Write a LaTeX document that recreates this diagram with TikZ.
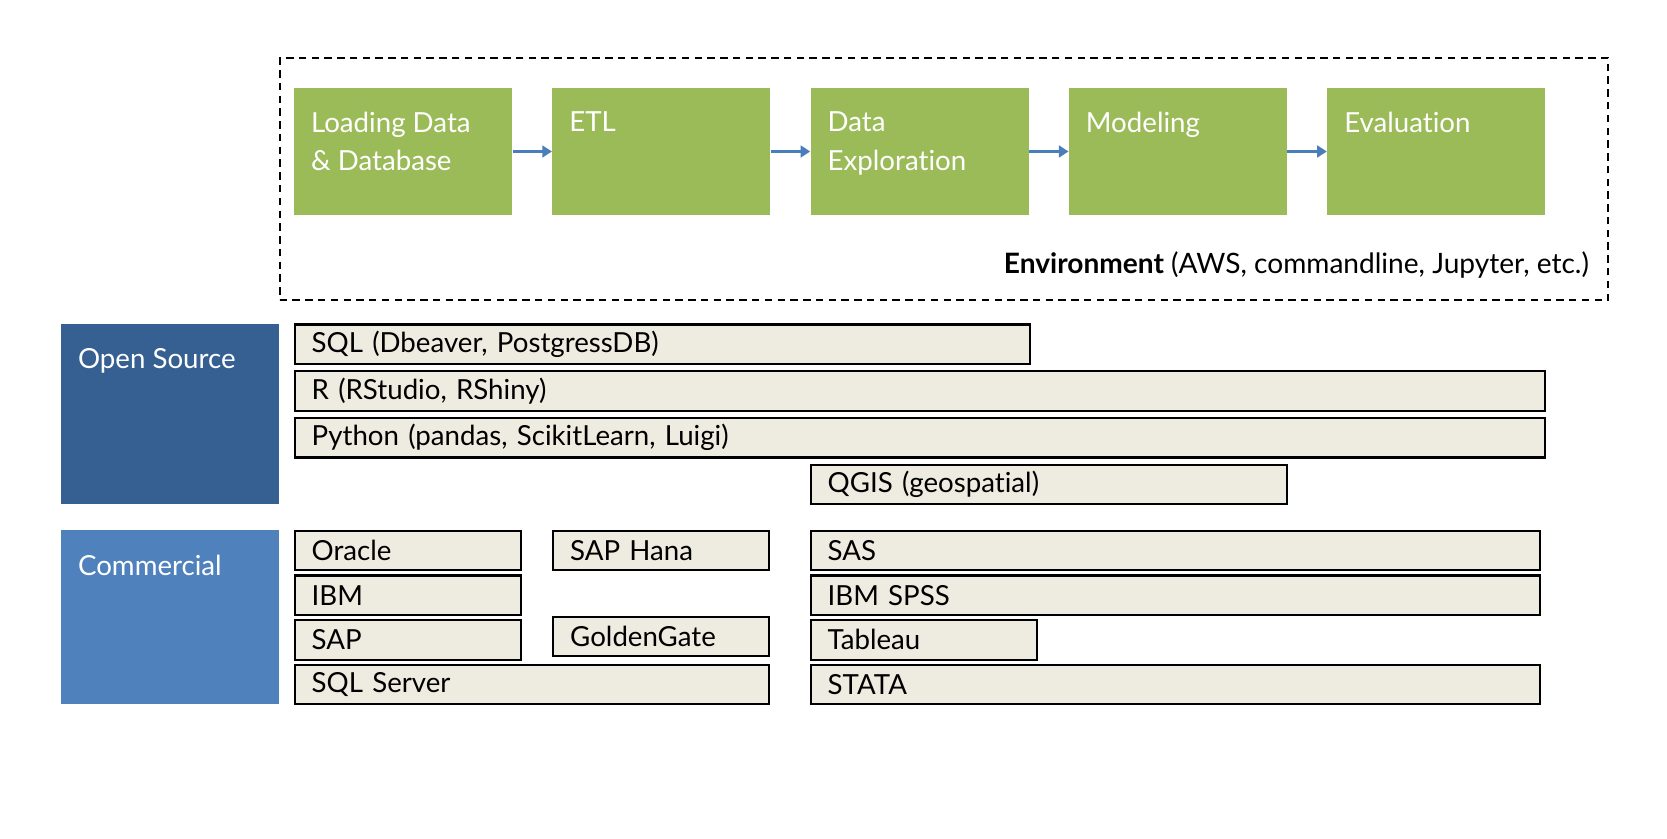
\documentclass[tikz,border=0pt]{standalone}
\usepackage{fontspec}
\setmainfont{Lato}[Ligatures=NoCommon]
\usetikzlibrary{positioning, arrows.meta}

\definecolor{stepgreen}{HTML}{9BBB59}
\definecolor{toolfill}{HTML}{EEECE1}
\definecolor{opendark}{HTML}{376092}
\definecolor{comblue}{HTML}{4F81BD}
\definecolor{flowblue}{HTML}{4A7EBB}

\begin{document}
\begin{tikzpicture}[x=0.5pt,y=-0.5pt,node distance=18.5pt,
	stepbox/.style={fill=stepgreen, minimum width=102.5pt, minimum height=60pt, inner sep=0pt},
	steptext/.style={text=white, align=left, anchor=north west, inner xsep=8pt, inner ysep=11.5pt,
		font=\fontsize{13}{18}\selectfont},
	groupbox/.style={anchor=north west, minimum width=102.5pt, inner sep=0pt},
	toolbox/.style={draw=black, line width=1pt, fill=toolfill, anchor=north west, align=left,
		minimum height=18.5pt, inner xsep=8pt, inner ysep=0pt, font=\fontsize{13}{15}\selectfont},
	envbox/.style={draw=black, dashed, dash pattern=on 3.5pt off 2.5pt, line width=0.9pt,
		anchor=north west, minimum width=624.5pt, minimum height=113.5pt, inner sep=0pt},
	flow/.style={draw=flowblue, line width=1.3pt, -{Triangle[length=4.5pt,width=5.5pt]}}]
	\useasboundingbox (0,0) rectangle (1567,788);

	% environment
	\node[envbox] (env) at (262,54) {};
	\node[anchor=east, inner sep=0pt, font=\fontsize{13.2}{16}\selectfont] (envtext) at (1494,249)
		{\textbf{Environment} (AWS, commandline, Jupyter, etc.)};

	% steps
	\node[stepbox, anchor=north west] (load) at (276,82) {};
	\node[stepbox] (etl) [right=of load] {};
	\node[stepbox] (explore) [right=of etl] {};
	\node[stepbox] (model) [right=of explore] {};
	\node[stepbox] (evaluate) [right=of model] {};
	\node[steptext] (loadtext) at (load.north west) {Loading Data\\\& Database};
	\node[steptext] (etltext) at (etl.north west) {ETL};
	\node[steptext] (exploretext) at (explore.north west) {Data\\Exploration};
	\node[steptext] (modeltext) at (model.north west) {Modeling};
	\node[steptext] (evaluatetext) at (evaluate.north west) {Evaluation};
	\path[flow] (load) -- (etl);
	\path[flow] (etl) -- (explore);
	\path[flow] (explore) -- (model);
	\path[flow] (model) -- (evaluate);

	% groups
	\node[groupbox, fill=opendark, minimum height=84.5pt] (open) at (57,304) {};
	\node[groupbox, fill=comblue, minimum height=81.5pt] (com) at (57,498) {};
	\node[steptext] (opentext) at (open.north west) {Open Source};
	\node[steptext] (comtext) at (com.north west) {Commercial};

	% open source tools
	\node[toolbox, text width=329.5pt] (sql) at (276,304) {SQL (Dbeaver, PostgressDB)};
	\node[toolbox, text width=571.5pt] (r) at (276,348) {R (RStudio, RShiny)};
	\node[toolbox, text width=571.5pt] (py) at (276,392) {Python (pandas, ScikitLearn, Luigi)};
	\node[toolbox, text width=208pt] (qgis) at (761,436) {QGIS (geospatial)};

	% commercial tools
	\node[toolbox, text width=90.5pt] (oracle) at (276,498) {Oracle};
	\node[toolbox, text width=90.5pt] (ibm) at (276,540) {IBM};
	\node[toolbox, text width=90.5pt] (sap) at (276,582) {SAP};
	\node[toolbox, text width=207pt] (sqlserver) at (276,624) {SQL Server};
	\node[toolbox, text width=85.5pt] (hana) at (519,498) {SAP Hana};
	\node[toolbox, text width=85.5pt] (golden) at (519,579) {GoldenGate};
	\node[toolbox, text width=327pt] (sas) at (761,498) {SAS};
	\node[toolbox, text width=327pt] (spss) at (761,540) {IBM SPSS};
	\node[toolbox, text width=90.5pt] (tableau) at (761,582) {Tableau};
	\node[toolbox, text width=327pt] (stata) at (761,624) {STATA};
\end{tikzpicture}
\end{document}
